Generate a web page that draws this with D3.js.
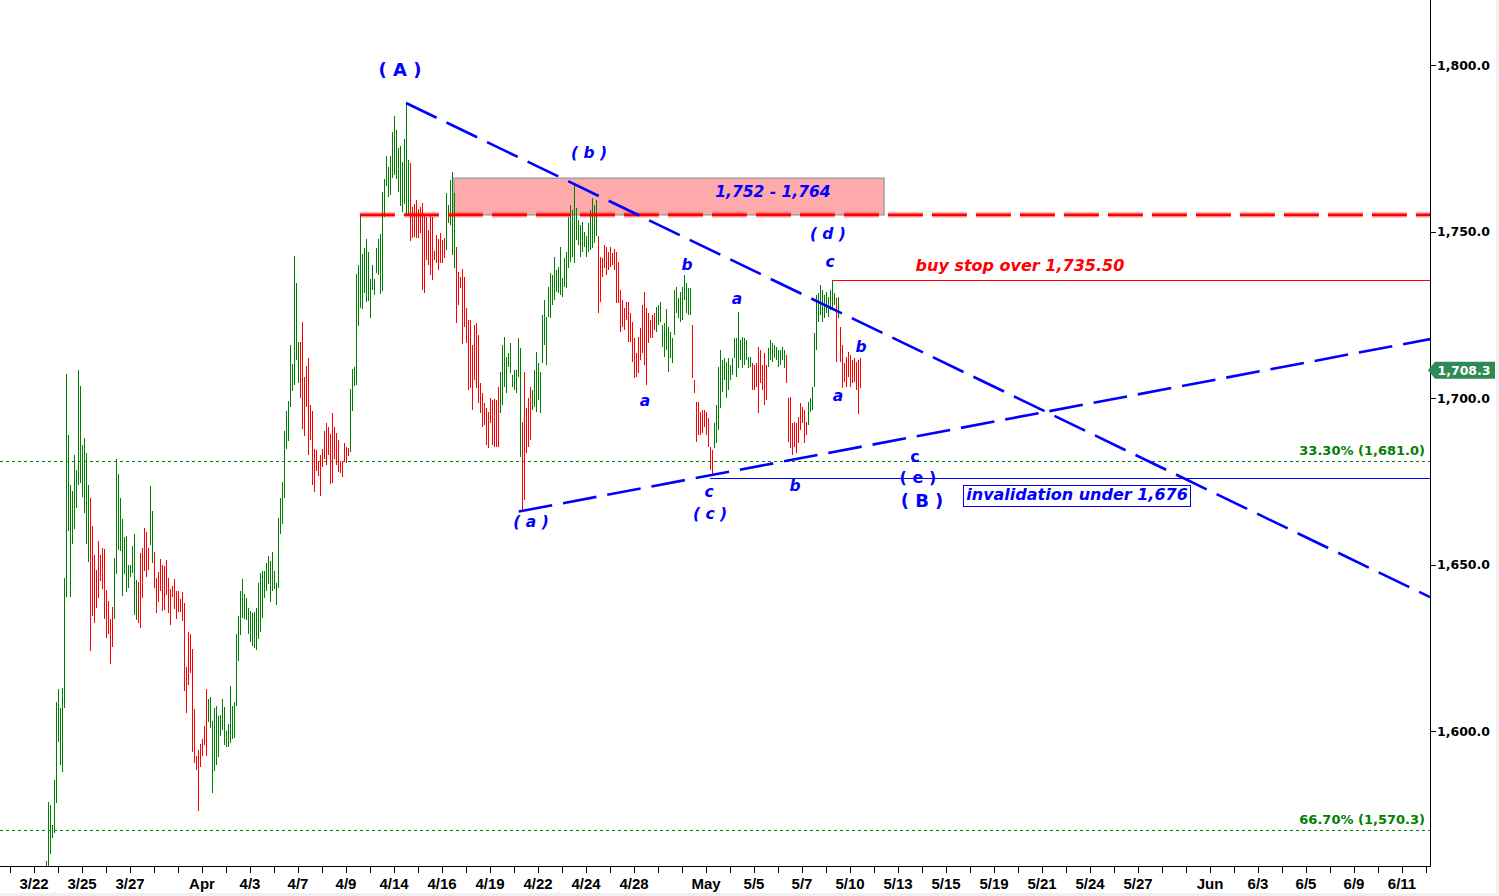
<!DOCTYPE html>
<html><head><meta charset="utf-8">
<script src="https://cdn.jsdelivr.net/npm/d3@7"></script>
<style>body{margin:0;background:#fff;}svg{display:block;}</style>
</head><body><svg id="c" width="1499" height="896"></svg>
<script>
// ---- DATA ----
const barHigh = [
1561,1578.6,1577.8,1571.8,1585.3,1608.7,1612.6,1606.9,1613,1646,1707.2,1688.9,
1673.9,1672,1682.9,1678.4,1708.4,1703.6,1685.9,1688,1683.5,1673.9,1670,1661.6,
1652.9,1648.4,1657,1652.9,1655,1654.7,1642.3,1639,1633.6,1637.2,1652,1681.7,
1677.2,1670,1663.7,1658.3,1658.6,1649.9,1649.9,1655.6,1659.2,1645.3,1644.8,1653.5,
1655,1661,1659.8,1655,1673.6,1666.1,1653.8,1646,1647.6,1651.7,1649.9,1649.5,
1651.4,1646,1642.6,1643.5,1645.6,1642,1642,1639.6,1641.7,1638.4,1619.2,1629.7,
1629.1,1624.6,1606.6,1592.5,1594.3,1596.1,1597.6,1601.5,1612.6,1609.6,1610.2,1603,
1606.9,1607.5,1604.5,1604.8,1609.6,1607.2,1600,1602.1,1613.5,1607.5,1608.7,1629.1,
1634.5,1642,1645.5,1641,1639.9,1636.8,1636.1,1635.3,1635.7,1636.8,1644.4,1647.3,
1648,1648,1650.4,1652.5,1651.1,1653.9,1648,1644.4,1664,1670,1674.9,1690,
1696.2,1699,1715.8,1710.2,1742.5,1734.4,1716.9,1716.9,1722.9,1706.4,1709.6,1712.1,
1697.9,1696.2,1684.7,1684.3,1681.2,1683,1684.7,1690,1692.4,1691.4,1689.2,1695.6,
1691.4,1689.6,1687.5,1681.2,1681.2,1686.4,1685.4,1685,1702.6,1708.8,1709.2,1737.2,
1740,1754.7,1743.2,1744.9,1747.7,1743.8,1735.8,1740,1735.8,1744.9,1747.7,1749.1,
1762,1765.9,1772.6,1769.4,1772.6,1779.9,1784.8,1780.6,1775,1775.7,1770.8,1777.8,
1788.6,1771.5,1770.5,1757.5,1758.2,1759.6,1756.8,1757.5,1758.5,1755,1754.5,1750.5,
1754.7,1754.5,1744,1749,1747.8,1749.5,1747.5,1748,1761.5,1758,1765.5,1768,
1761.5,1745.4,1737.9,1736.4,1738.7,1736.4,1726.9,1723.4,1723.4,1715.9,1721.9,1722.4,
1718.9,1704.4,1701.4,1698.4,1696.9,1695.9,1699.9,1699.4,1699.6,1699.4,1703.4,1707.9,
1715.9,1718.4,1712.4,1713.4,1716.4,1706.9,1708.4,1708.4,1717.9,1714.9,1692.9,1707.9,
1696.9,1699.9,1703.4,1702.4,1708.4,1713.9,1710.4,1707.9,1724.9,1729.4,1724.4,1733.4,
1737.4,1736.9,1742.4,1738.4,1739.4,1745.4,1735.9,1741.9,1743.9,1754.5,1758,1756.5,
1764,1757,1753.5,1752,1753,1750,1748.5,1752.5,1756.5,1760,1758,1759.5,
1748.5,1742.4,1741.9,1745.9,1745.4,1743.9,1745.4,1743.4,1744.6,1743.9,1740.9,1732.4,
1729.4,1726.9,1728.9,1728.9,1725.4,1722.9,1717.9,1713.4,1718.4,1720.9,1727.9,1731.9,
1726.9,1725.4,1723.4,1724.9,1725.4,1727.4,1727.9,1728.9,1721.9,1722.4,1726.6,1721.4,
1719.9,1717.9,1732.4,1733.4,1729.9,1731.9,1733.4,1736.9,1734.4,1732.9,1732.9,1721.9,
1705.4,1698.9,1698.9,1695.9,1696.4,1696.4,1695.9,1693.9,1685.4,1684.4,1692.4,1697.9,
1709.4,1714.4,1711.4,1711.9,1710.9,1711.9,1709.9,1711.9,1717.9,1717.9,1725.9,1717.4,
1718.4,1717.9,1717.4,1712.4,1712.4,1710.4,1709.9,1710.4,1715.4,1714.4,1709.9,1713.4,
1709.9,1714.9,1717.4,1716.4,1715.9,1715.4,1714.4,1714.4,1715.4,1714.4,1712.9,1699.9,
1700.4,1692.4,1692.9,1692.4,1694.4,1698.4,1697.4,1696.4,1692.9,1698.9,1699.9,1703.4,
1719.4,1730.9,1731.4,1733.9,1732.4,1730.9,1731.9,1730.4,1732.4,1735.4,1731.4,1729.9,
1730.4,1721.4,1715.9,1710.4,1712.4,1713.9,1712.9,1711.4,1711.9,1710.9,1711.4,1711.9];

const barLow = [
1557,1558,1563,1568,1569.4,1578.4,1596.7,1589.8,1587.7,1607,1640.2,1660,
1640.2,1656.2,1660.6,1667,1673.9,1674.5,1670.3,1665.5,1656.2,1650.8,1624,1634.6,
1632.4,1637,1639.9,1645,1642.6,1633.6,1628,1629.1,1620.1,1625.2,1633.6,1647.2,
1654.4,1654.1,1640.5,1647.2,1641.7,1642.9,1646.2,1647.4,1634.8,1633.3,1632.4,1630.9,
1639.9,1648,1646.2,1648.4,1655.9,1650.5,1642.9,1635.4,1638.7,1642,1636,1636.3,
1640.8,1635.4,1631.8,1640.2,1636.6,1633.6,1635.7,1635.7,1633,1612,1605.4,1613.8,
1617.4,1593.7,1590.4,1588.3,1576,1589.2,1592.5,1595.8,1592.5,1602.7,1600.9,1581.4,
1588,1589.8,1592.2,1598.5,1600.3,1595.8,1595.2,1595.2,1596.4,1597.6,1597.9,1607.5,
1621,1628.7,1634,1633.6,1633.2,1629.1,1626.6,1625.6,1624.8,1624.2,1627.7,1629.8,
1634,1639.9,1642,1644.1,1638.8,1642,1642.7,1637.8,1643,1659.2,1662.3,1670,
1684.7,1687.2,1697.3,1702.2,1703.9,1711.3,1704.6,1700.1,1690.6,1688.6,1697.3,1683,
1687.5,1673.9,1671.8,1678,1676.6,1670.7,1679.4,1681.6,1679.8,1683,1674.2,1674.6,
1681.6,1679.8,1677.7,1677.4,1676.3,1680.8,1680.5,1682.6,1683.7,1696.2,1703.6,1704,
1721.5,1727,1726.7,1731.6,1728.8,1729.1,1723.9,1732.3,1730.9,1737.6,1736.8,1731.2,
1732,1754.4,1763.8,1760.3,1761,1766.2,1767,1765.9,1762,1757.8,1755.8,1758.2,
1754.7,1754.7,1747,1748,1748.4,1748,1748,1749.5,1732.4,1731.4,1741.4,1739.9,
1736.9,1735.4,1741.4,1740.4,1738.4,1740.4,1740.4,1741.9,1744.5,1752.5,1752,1743,
1738.9,1722.4,1727.9,1732.9,1716.2,1721.4,1716.4,1702.4,1702.9,1696.4,1705.4,1702.9,
1698.4,1695.6,1691.2,1691.9,1685.9,1684.9,1692.4,1685.9,1685.4,1685.4,1685.4,1695.4,
1697.9,1703.4,1701.4,1709.4,1707.4,1703.4,1702.4,1701.6,1706.4,1682.4,1665.9,1669.4,
1683.4,1685.4,1687.4,1696.4,1697.4,1695.9,1699.4,1695.4,1710.4,1715.9,1709.9,1724.4,
1723.9,1727.9,1729.4,1731.9,1731.4,1730.9,1730.4,1733.4,1732.9,1738.9,1740.9,1742.4,
1740.4,1747.5,1746,1742.4,1743.9,1745.4,1742.4,1743.9,1744.4,1744.9,1746.4,1748.5,
1725.4,1728.9,1736.4,1738.9,1736.9,1738.4,1739.4,1739.9,1738.4,1728.4,1728.4,1719.9,
1721.4,1720.4,1723.4,1716.9,1716.9,1710.9,1705.9,1706.4,1707.4,1711.4,1713.4,1709.9,
1703.9,1716.4,1717.9,1717.9,1720.4,1719.9,1721.9,1722.9,1715.4,1712.4,1714.4,1707.9,
1711.9,1710.4,1718.9,1725.4,1723.9,1722.9,1723.4,1729.4,1725.4,1724.9,1724.9,1705.9,
1701.4,1686.9,1688.9,1688.9,1689.4,1691.4,1688.9,1685.4,1678.4,1676.5,1684.9,1686.4,
1690.4,1696.9,1701.9,1705.4,1699.9,1702.4,1705.4,1706.9,1711.9,1706.4,1708.9,1711.4,
1708.9,1709.9,1711.4,1708.9,1709.4,1702.4,1702.4,1703.4,1695.4,1704.4,1702.4,1697.9,
1699.4,1709.4,1711.4,1710.9,1711.9,1711.4,1709.4,1709.9,1711.4,1708.9,1704.4,1686.9,
1684.9,1682.9,1685.4,1683.4,1686.4,1690.4,1692.4,1686.4,1688.9,1691.9,1695.9,1696.4,
1703.4,1714.4,1722.9,1724.9,1722.9,1723.9,1725.4,1724.4,1726.4,1726.4,1727.9,1710.9,
1723.9,1710.9,1702.9,1704.9,1703.4,1706.4,1703.4,1704.4,1704.9,1702.4,1695.1,1702.9];

// g = up bar (green), r = down bar (red)
const barDir = ("gggggggggg gggggggggg gg rrrrrrrrrr rr gggggggggg gg rrrrrr gg " +
 "rrrrrrrrrr rrrrrrrrrr rrrrrrr gggggggggg gggggggggg gggggggggg gggggggggg gggggg " +
 "rrrrrrrrrr rrrrrrrrrr rrrrr gggggggggg gggggggggg gggggggggg rrrrrrrrrr rrrrrrrr ggggg " +
 "rrrrrrrrrr rrrrrrrrrr rr gggggggggg g rrrrr gggggggggg gggggggggg gggggggggg ggg " +
 "rrrrrrrrrr rrrrrrrrrr rrrrrrrrr gggggggggg gggggggg rrrrrrrrrr r gggggggggg ggggggggg " +
 "rrrrrrrr ggggggggg rrrrrrrrrr r gggggggggg gggg r g rrrrrrrrrr r").replace(/ /g, "").split("");

const xTickLabels = [
  [0,"3/22"],[2,"3/25"],[4,"3/27"],[7,"Apr"],[9,"4/3"],[11,"4/7"],[13,"4/9"],
  [15,"4/14"],[17,"4/16"],[19,"4/19"],[21,"4/22"],[23,"4/24"],[25,"4/28"],[28,"May"],
  [30,"5/5"],[32,"5/7"],[34,"5/10"],[36,"5/13"],[38,"5/15"],[40,"5/19"],[42,"5/21"],
  [44,"5/24"],[46,"5/27"],[49,"Jun"],[51,"6/3"],[53,"6/5"],[55,"6/9"],[57,"6/11"]];
const yTickValues = [1600, 1650, 1700, 1750, 1800];
const lastPrice = 1708.3;

const fibLevels = [[1681.0, "33.30% (1,681.0)"], [1570.3, "66.70% (1,570.3)"]];
const zoneBox = {d0: 17.5, d1: 35.42, p0: 1755, p1: 1766};
const trendLines = [
  {d0: 15.5, p0: 1788.6, d1: 58.17, p1: 1640.2},
  {d0: 20.2, p0: 1665.9, d1: 58.17, p1: 1717.7}];
const resistanceLine = {d0: 13.58, d1: 58.17, p: 1755};
const buyStopLine = {d0: 33.29, d1: 58.17, p: 1735.5};
const invalidLine = {d0: 28.17, d1: 58.17, p: 1676};

// [text, day, price, kind]
const labels = [
  ["( A )", 15.25, 1798.5, "big"],
  ["( b )", 23.125, 1773.6, "it"],
  ["1,752 - 1,764", 30.79, 1761.9, "it"],
  ["( d )", 33.08, 1749.5, "it"],
  ["c", 33.17, 1741.1, "it"],
  ["b", 27.21, 1740.2, "it"],
  ["a", 29.29, 1730.0, "it"],
  ["a", 25.46, 1699.4, "it"],
  ["b", 34.46, 1715.6, "it"],
  ["a", 33.5, 1700.9, "it"],
  ["c", 28.125, 1671.8, "it"],
  ["( c )", 28.17, 1665.2, "it"],
  ["b", 31.71, 1673.6, "it"],
  ["( a )", 20.71, 1662.8, "it"],
  ["c", 36.71, 1682.6, "up"],
  ["( e )", 36.83, 1676.3, "up"],
  ["( B )", 37.0, 1669.1, "big"]];
const buyStopText = ["buy stop over 1,735.50", 41.08, 1739.9];
const invalidText = ["invalidation under 1,676", 43.46, 1671.2];

// ---- DRAW ----
const svg = d3.select("#c");
const plotR = 1430, plotB = 866;
const x = d3.scaleLinear().domain([0, 58]).range([34, 1426]);
const y = d3.scaleLinear().domain([1600, 1800]).range([731, 65]);
const barDay = i => 0.5 + i / 12;
const BLUE = "#0000ff", RED = "#ff0000", GREEN = "#008000";
const FONT = "'DejaVu Sans', Verdana, sans-serif";

svg.append("rect").attr("width", 1499).attr("height", 896).attr("fill", "#fff");
svg.append("rect").attr("x", 0).attr("y", 893).attr("width", 1499).attr("height", 3).attr("fill", "#f0f0f0");
svg.append("rect").attr("x", 1496).attr("y", 0).attr("width", 3).attr("height", 896).attr("fill", "#f0f0f0");

svg.append("defs").append("clipPath").attr("id", "plot")
  .append("rect").attr("x", 0).attr("y", 0).attr("width", plotR).attr("height", plotB);
const g = svg.append("g").attr("clip-path", "url(#plot)");

// zone box
g.append("rect")
  .attr("x", x(zoneBox.d0)).attr("y", y(zoneBox.p1))
  .attr("width", x(zoneBox.d1) - x(zoneBox.d0)).attr("height", y(zoneBox.p0) - y(zoneBox.p1))
  .attr("fill", "#ffaaaa").attr("stroke", "#a0a0a0").attr("stroke-width", 1.5);

// fib dotted lines
fibLevels.forEach(([p]) => {
  g.append("line").attr("x1", 0).attr("x2", plotR)
    .attr("y1", Math.round(y(p)) + 0.5).attr("y2", Math.round(y(p)) + 0.5)
    .attr("stroke", GREEN).attr("stroke-width", 1).attr("stroke-dasharray", "3,3");
});

// bars
g.append("g").selectAll("line").data(barHigh.map((h, i) => ({h, l: barLow[i], d: barDir[i] || "r", i})))
  .join("line")
  .attr("x1", d => Math.round(x(barDay(d.i))) + 0.5)
  .attr("x2", d => Math.round(x(barDay(d.i))) + 0.5)
  .attr("y1", d => y(d.h)).attr("y2", d => y(d.l))
  .attr("stroke", d => d.d === "g" ? GREEN : RED)
  .attr("stroke-width", 1.2)
  .attr("shape-rendering", "crispEdges");

// resistance dashed red line with glow
[[6, 0.25], [2.6, 1]].forEach(([w, o]) => {
  g.append("line")
    .attr("x1", x(resistanceLine.d0)).attr("x2", x(resistanceLine.d1))
    .attr("y1", y(resistanceLine.p)).attr("y2", y(resistanceLine.p))
    .attr("stroke", RED).attr("stroke-opacity", o).attr("stroke-width", w)
    .attr("stroke-dasharray", "35,9");
});

// thin lines
g.append("line").attr("x1", x(buyStopLine.d0)).attr("x2", x(buyStopLine.d1))
  .attr("y1", Math.round(y(buyStopLine.p)) + 0.5).attr("y2", Math.round(y(buyStopLine.p)) + 0.5)
  .attr("stroke", RED).attr("stroke-width", 1);
g.append("line").attr("x1", x(invalidLine.d0)).attr("x2", x(invalidLine.d1))
  .attr("y1", Math.round(y(invalidLine.p)) + 0.5).attr("y2", Math.round(y(invalidLine.p)) + 0.5)
  .attr("stroke", BLUE).attr("stroke-width", 1);

// trend lines
trendLines.forEach(t => {
  g.append("line")
    .attr("x1", x(t.d0)).attr("y1", y(t.p0)).attr("x2", x(t.d1)).attr("y2", y(t.p1))
    .attr("stroke", BLUE).attr("stroke-width", 2.6).attr("stroke-dasharray", "34,11");
});

// axes lines
svg.append("line").attr("x1", plotR + 0.5).attr("x2", plotR + 0.5).attr("y1", 0).attr("y2", plotB + 1)
  .attr("stroke", "#000").attr("stroke-width", 1);
svg.append("line").attr("x1", 0).attr("x2", plotR + 1).attr("y1", plotB + 0.5).attr("y2", plotB + 0.5)
  .attr("stroke", "#000").attr("stroke-width", 1);

// x ticks (one per day)
const xTicks = d3.range(-2, 59).filter(k => x(k) >= 0 && x(k) <= plotR);
svg.append("g").selectAll("line").data(xTicks).join("line")
  .attr("x1", k => Math.round(x(k)) + 0.5).attr("x2", k => Math.round(x(k)) + 0.5)
  .attr("y1", plotB).attr("y2", plotB + 7).attr("stroke", "#000").attr("stroke-width", 1);
svg.append("g").selectAll("text").data(xTickLabels).join("text")
  .attr("x", d => x(d[0])).attr("y", 889)
  .attr("text-anchor", "middle")
  .attr("font-family", "'Liberation Sans Narrow', 'Arial Narrow', sans-serif")
  .attr("font-weight", "bold").attr("font-size", 15).attr("fill", "#000")
  .text(d => d[1]);

// y ticks
const fmt = d3.format(",.1f");
svg.append("g").selectAll("line").data(yTickValues).join("line")
  .attr("x1", plotR).attr("x2", plotR + 6)
  .attr("y1", v => Math.round(y(v)) + 0.5).attr("y2", v => Math.round(y(v)) + 0.5)
  .attr("stroke", "#000");
svg.append("g").selectAll("text").data(yTickValues).join("text")
  .attr("x", plotR + 7).attr("y", v => y(v)).attr("dy", "0.36em")
  .attr("font-family", FONT).attr("font-weight", "bold").attr("font-size", 12.5)
  .attr("fill", "#000").text(v => fmt(v));

// last price tag
const ly = y(lastPrice);
svg.append("path")
  .attr("d", `M${plotR - 2},${ly} L${plotR + 5},${ly - 8.5} L1495,${ly - 8.5} L1495,${ly + 8.5} L${plotR + 5},${ly + 8.5} Z`)
  .attr("fill", "#2e8b57");
svg.append("text").attr("x", 1464).attr("y", ly).attr("dy", "0.36em").attr("text-anchor", "middle")
  .attr("font-family", FONT).attr("font-weight", "bold").attr("font-size", 12.5)
  .attr("fill", "#fff").text(fmt(lastPrice));

// fib labels
fibLevels.forEach(([p, t]) => {
  svg.append("text").attr("x", 1425).attr("y", y(p) - 11).attr("dy", "0.36em")
    .attr("text-anchor", "end").attr("font-family", FONT).attr("font-weight", "bold")
    .attr("font-size", 13).attr("fill", GREEN).text(t);
});

// wave labels
const styleOf = {
  big: {size: 18, style: "normal"},
  it: {size: 15.5, style: "oblique"},
  up: {size: 16, style: "normal"}};
svg.append("g").selectAll("text").data(labels).join("text")
  .attr("x", d => x(d[1])).attr("y", d => y(d[2])).attr("dy", "0.36em")
  .attr("text-anchor", "middle").attr("font-family", FONT).attr("font-weight", "bold")
  .attr("font-style", d => styleOf[d[3]].style).attr("font-size", d => styleOf[d[3]].size)
  .attr("fill", BLUE).text(d => d[0]);

svg.append("text").attr("x", x(buyStopText[1])).attr("y", y(buyStopText[2])).attr("dy", "0.36em")
  .attr("text-anchor", "middle").attr("font-family", FONT).attr("font-weight", "bold")
  .attr("font-style", "oblique").attr("font-size", 16).attr("fill", RED).text(buyStopText[0]);

const invG = svg.append("g");
const invT = invG.append("text").attr("x", x(invalidText[1])).attr("y", y(invalidText[2])).attr("dy", "0.36em")
  .attr("text-anchor", "middle").attr("font-family", FONT).attr("font-weight", "bold")
  .attr("font-style", "oblique").attr("font-size", 16).attr("fill", BLUE).text(invalidText[0]);
const bb = invT.node().getBBox();
invG.insert("rect", "text").attr("x", Math.round(bb.x) - 2.5).attr("y", Math.round(bb.y) + 0.5)
  .attr("width", Math.round(bb.width) + 5).attr("height", Math.round(bb.height) + 2)
  .attr("fill", "#fff").attr("stroke", BLUE).attr("stroke-width", 1);
</script>
</body></html>
